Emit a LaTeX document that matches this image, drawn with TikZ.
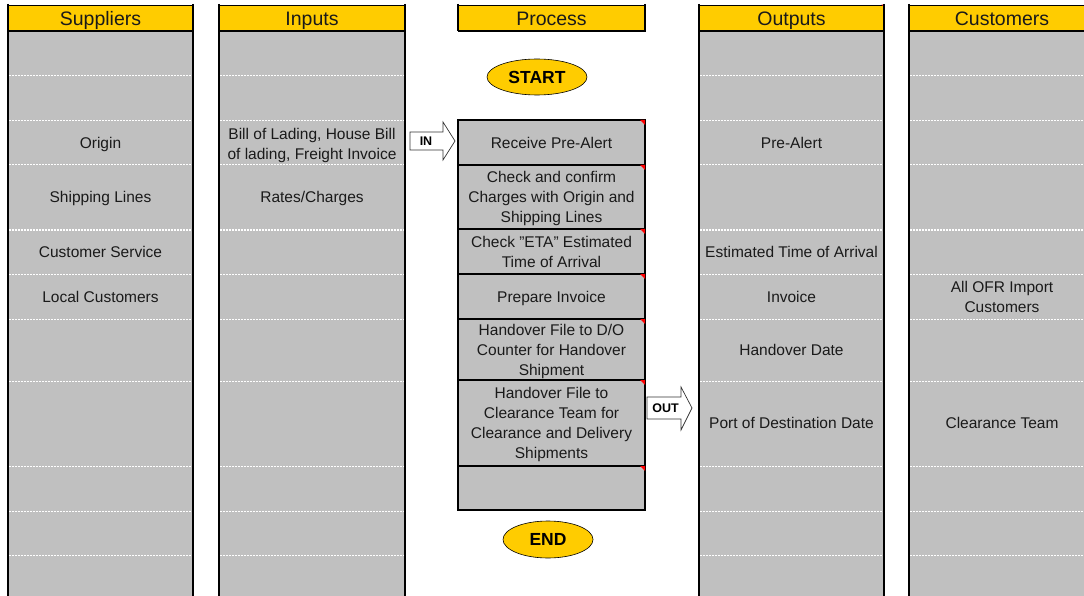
\documentclass[tikz,border=0pt]{standalone}
\usepackage{fontspec}
\setmainfont{Liberation Sans}[Ligatures=NoCommon]
\usetikzlibrary{shapes.geometric}
\definecolor{hdr}{HTML}{FFCC00}
\definecolor{cellgray}{HTML}{C0C0C0}
\definecolor{txt}{HTML}{1A1A1A}
\begin{document}
\begin{tikzpicture}[x=1pt,y=-1pt,
  hdrbox/.style={draw=black, line width=0.8pt, fill=hdr, inner sep=0pt,
    minimum height=26pt, text height=15pt, text depth=0pt,
    font=\fontsize{19.5}{22}\selectfont, text=txt},
  celltxt/.style={align=center, inner sep=0pt, text=txt,
    text height=11.5pt, text depth=0pt,
    font=\fontsize{15.5}{20}\selectfont},
  pcell/.style={draw=black, line width=2pt, fill=cellgray, minimum width=187pt,
    inner sep=0pt, align=center, text=txt, text height=11.5pt, text depth=0pt,
    font=\fontsize{15.5}{20}\selectfont},
  twolines/.style={text height=31.5pt},
  threelines/.style={text height=51.5pt},
  fourlines/.style={text height=71.5pt},
  colbg/.style={fill=cellgray},
  divider/.style={draw=white, line width=1pt, dash pattern=on 2pt off 1pt},
  colborder/.style={draw=black, line width=2pt},
  termin/.style={ellipse, draw=black, line width=0.6pt, fill=hdr, inner sep=0pt,
    text=black, text height=12.5pt, text depth=0pt,
    font=\bfseries\fontsize{17.5}{20}\selectfont},
  blockarrow/.style={draw=black!80, line width=0.7pt, fill=white},
  arrowtxt/.style={inner sep=0pt, text=black, text height=9pt, text depth=0pt,
    font=\bfseries\fontsize{12.5}{14}\selectfont},
  redmark/.style={fill=red}
]
\useasboundingbox (0,0) rectangle (1084,596);

% column backgrounds
\fill[colbg] (8,31) rectangle (193,596);
\fill[colbg] (219,31) rectangle (405,596);
\fill[colbg] (699,31) rectangle (884,596);
\fill[colbg] (909,31) rectangle (1095,596);

% row dividers
\foreach \y in {76,121,165,230,274,319,381,466,511,555} {
  \draw[divider] (9,\y) -- (192,\y);
  \draw[divider] (220,\y) -- (404,\y);
  \draw[divider] (700,\y) -- (883,\y);
  \draw[divider] (910,\y) -- (1095,\y);
}

% headers
\node[hdrbox, minimum width=185pt] (hS) at (100.5,18) {Suppliers};
\node[hdrbox, minimum width=186pt] (hI) at (312,18) {Inputs};
\node[hdrbox, minimum width=187pt] (hP) at (551.5,18) {Process};
\node[hdrbox, minimum width=185pt] (hO) at (791.5,18) {Outputs};
\node[hdrbox, minimum width=186pt] (hC) at (1002,18) {Customers};
\fill[redmark] (hO.north east) -- ++(-3,0) -- ++(3,3) -- cycle;

% header bottom lines and column borders
\foreach \a/\b in {8/193,219/405,458/645,699/884,909/1095} {
  \draw[colborder] (\a,31) -- (\b,31);
}
\foreach \x in {8,193,219,405,699,884,909} {
  \draw[colborder] (\x,4) -- (\x,596);
}
\draw[colborder] (458,4) -- (458,31);
\draw[colborder] (645,4) -- (645,31);

% Suppliers
\node[celltxt] (s1) at (100.5,143) {Origin};
\node[celltxt] (s2) at (100.5,197) {Shipping Lines};
\node[celltxt] (s3) at (100.5,252) {Customer Service};
\node[celltxt] (s4) at (100.5,297) {Local Customers};

% Inputs
\node[celltxt, twolines] (i1) at (312,143.5) {Bill of Lading, House Bill\\of lading, Freight Invoice};
\node[celltxt] (i2) at (312,197) {Rates/Charges};

% Outputs
\node[celltxt] (o1) at (791.5,143) {Pre-Alert};
\node[celltxt] (o2) at (791.5,252) {Estimated Time of Arrival};
\node[celltxt] (o3) at (791.5,297) {Invoice};
\node[celltxt] (o4) at (791.5,350) {Handover Date};
\node[celltxt] (o5) at (791.5,423) {Port of Destination Date};

% Customers
\node[celltxt, twolines] (c1) at (1002,297) {All OFR Import\\Customers};
\node[celltxt] (c2) at (1002,423) {Clearance Team};

% Process
\node[termin, minimum width=100pt, minimum height=36pt] (start) at (537,77) {START};
\node[pcell, minimum height=45pt] (p1) at (551.5,142.5) {Receive Pre-Alert};
\node[pcell, threelines, minimum height=64pt] (p2) at (551.5,197) {Check and confirm\\Charges with Origin and\\Shipping Lines};
\node[pcell, twolines, minimum height=45pt] (p3) at (551.5,251.5) {Check \char34 ETA\char34{} Estimated\\Time of Arrival};
\node[pcell, minimum height=45pt] (p4) at (551.5,296.5) {Prepare Invoice};
\node[pcell, threelines, minimum height=61pt] (p5) at (551.5,349.5) {Handover File to D/O\\Counter for Handover\\Shipment};
\node[pcell, fourlines, minimum height=86pt] (p6) at (551.5,423) {Handover File to\\Clearance Team for\\Clearance and Delivery\\Shipments};
\node[pcell, minimum height=44pt] (p7) at (551.5,488) {};
\node[termin, minimum width=90pt, minimum height=37pt] (end) at (548,539.5) {END};

\foreach \n in {p1,p2,p3,p4,p5,p6,p7} {
  \fill[redmark] ([xshift=-1pt,yshift=-1pt]\n.north east) -- ++(-5,0) -- ++(5,5) -- cycle;
}

% IN arrow
\draw[blockarrow] (410,132) -- (443,132) -- (443,122) -- (455,141) -- (443,160) -- (443,150) -- (410,150) -- cycle;
\node[arrowtxt] (inlbl) at (426,141) {IN};

% OUT arrow
\draw[blockarrow] (647,397) -- (681,397) -- (681,387) -- (692,408) -- (681,430) -- (681,419) -- (647,419) -- cycle;
\node[arrowtxt] (outlbl) at (665.5,408) {OUT};
\end{tikzpicture}
\end{document}
